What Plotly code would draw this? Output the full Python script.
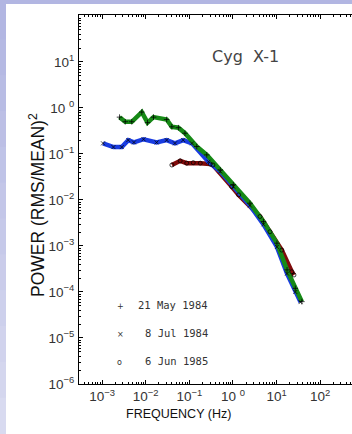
import plotly.graph_objects as go

# ---- data ----
may84_f = [0.00251, 0.00339, 0.00479, 0.00813, 0.0110, 0.0151, 0.0302, 0.0398, 0.0562, 0.0794,
           0.148, 0.251, 0.513, 1.02, 2.45, 5.01, 10.2, 17.4, 26.9, 38.0]
may84_p = [0.631, 0.501, 0.501, 0.813, 0.479, 0.631, 0.562, 0.389, 0.372, 0.282,
           0.145, 0.0955, 0.0447, 0.0214, 0.00851, 0.00339, 0.00115, 3.02e-4, 1.20e-4, 6.17e-5]

jul84_f = [0.00105, 0.00182, 0.00282, 0.00398, 0.00537, 0.00891, 0.0178, 0.0302, 0.0468, 0.0724,
           0.115, 0.275, 0.513, 1.02, 2.45, 5.01, 10.2, 17.4, 26.9, 35.5]
jul84_p = [0.170, 0.141, 0.141, 0.200, 0.178, 0.209, 0.178, 0.200, 0.170, 0.200,
           0.170, 0.0676, 0.0417, 0.0195, 0.00759, 0.00295, 9.55e-4, 2.51e-4, 1.0e-4, 6.03e-5]

jun85_f = [0.0398, 0.0617, 0.0871, 0.123, 0.178, 0.302, 0.347, 0.933, 1.35, 4.17, 7.08, 13.2, 22.4, 25.1]
jun85_p = [0.0575, 0.0708, 0.0631, 0.0646, 0.0631, 0.0603, 0.0575, 0.0195, 0.0129, 0.00437,
           0.00204, 8.13e-4, 2.75e-4, 2.34e-4]

x_tickvals = [1e-3, 1e-2, 1e-1, 1e0, 1e1, 1e2]
x_ticktext = ["10<sup>−3</sup>", "10<sup>−2</sup>", "10<sup>−1</sup>", "10 <sup>0</sup>",
              "10<sup>1</sup>", "10<sup>2</sup>"]
y_tickvals = [1e-6, 1e-5, 1e-4, 1e-3, 1e-2, 1e-1, 1e0, 1e1]
y_ticktext = ["10<sup>−6</sup>", "10<sup>−5</sup>", "10<sup>−4</sup>", "10<sup>−3</sup>",
              "10<sup>−2</sup>", "10<sup>−1</sup>", "10 <sup>0</sup>", "10<sup>1</sup>"]

legend_labels = ["21 May 1984", "8 Jul 1984", "6 Jun 1985"]
legend_symbols = ["+", "×", "o"]

# ---- layout geometry (pixels) ----
WIDTH, HEIGHT = 352, 434
L, T, R, B = 79, 15, 0, 50
PW, PH = WIDTH - L - R, HEIGHT - T - B


def px(x):
    return (x - L) / PW


def py(y):
    return 1 - (y - T) / PH


GREEN = "rgb(22,138,22)"
BLUE = "rgb(25,60,225)"
RED = "rgb(128,10,10)"

fig = go.Figure()

series = [
    (jun85_f, jun85_p, RED, "circle-open"),
    (jul84_f, jul84_p, BLUE, "x-thin"),
    (may84_f, may84_p, GREEN, "cross-thin"),
]
for f, p, col, sym in series:
    fig.add_trace(go.Scatter(x=f, y=p, mode="lines",
                             line=dict(color=col, width=4.5), hoverinfo="skip"))
for f, p, col, sym in series:
    fig.add_trace(go.Scatter(x=f, y=p, mode="markers",
                             marker=dict(symbol=sym, size=4, color="rgba(0,0,0,0.75)",
                                         line=dict(color="rgba(0,0,0,0.75)", width=1)),
                             hoverinfo="skip"))

LAV = "rgb(178,182,226)"
shapes = []
shapes.append(dict(type="rect", xref="paper", yref="paper", layer="below",
                   x0=px(-2), x1=px(WIDTH + 2), y0=py(4), y1=py(-2),
                   fillcolor=LAV, line=dict(width=0)))
n = 12
for i in range(n):
    t = i / (n - 1)
    r = int(178 + t * (216 - 178))
    g = int(182 + t * (218 - 182))
    b = int(226 + t * (240 - 226))
    y0 = 4 + i * (HEIGHT - 4) / n
    y1 = 4 + (i + 1) * (HEIGHT - 4) / n
    shapes.append(dict(type="rect", xref="paper", yref="paper", layer="below",
                       x0=px(-2), x1=px(6), y0=py(y1 + 0.5), y1=py(y0 - 0.5),
                       fillcolor=f"rgb({r},{g},{b})", line=dict(width=0)))

annotations = [
    dict(text="Cyg  X-1", x=px(245), y=py(45), xref="paper", yref="paper",
         showarrow=False, font=dict(family="DejaVu Sans", size=16, color="#444")),
    dict(text="POWER (RMS/MEAN)<sup>2</sup>", x=px(24), y=py(205), xref="paper", yref="paper",
         showarrow=False, textangle=-90,
         font=dict(family="Liberation Sans", size=17.5, color="#111")),
    dict(text="FREQUENCY (Hz)", x=px(178), y=py(423), xref="paper", yref="paper",
         showarrow=False,
         font=dict(family="Liberation Sans", size=12.5, color="#111")),
]
leg_y = [313, 341, 369]
for lab, sym, yy in zip(legend_labels, legend_symbols, leg_y):
    annotations.append(dict(text=sym, x=px(115), y=py(yy), xref="paper", yref="paper",
                            showarrow=False,
                            font=dict(family="DejaVu Sans", size=8, color="#333")))
    annotations.append(dict(text=lab, x=px(210), y=py(yy), xref="paper", yref="paper",
                            xanchor="right", showarrow=False,
                            font=dict(family="DejaVu Sans Mono", size=10.5, color="#333")))

axis_font = dict(family="Liberation Sans", size=13.5, color="#333")

fig.update_layout(
    width=WIDTH, height=HEIGHT,
    margin=dict(l=L, r=R, t=T, b=B),
    paper_bgcolor="white",
    plot_bgcolor="white",
    showlegend=False,
    shapes=shapes,
    annotations=annotations,
    xaxis=dict(type="log", range=[-3.53, 2.73], tickmode="array",
               tickvals=x_tickvals, ticktext=x_ticktext,
               ticks="inside", ticklen=4, tickcolor="black",
               showline=True, linecolor="black", linewidth=1, mirror="ticks",
               showgrid=False, zeroline=False, tickfont=axis_font,
               minor=dict(ticks="inside", ticklen=2, tickcolor="black", dtick="D1")),
    yaxis=dict(type="log", range=[-6, 2.02], tickmode="array",
               tickvals=y_tickvals, ticktext=y_ticktext,
               ticks="inside", ticklen=4, tickcolor="black",
               showline=True, linecolor="black", linewidth=1, mirror=False,
               showgrid=False, zeroline=False, tickfont=axis_font, ticklabelstandoff=1,
               minor=dict(ticks="inside", ticklen=2, tickcolor="black", dtick="D1")),
)

fig.write_html("out.html")
